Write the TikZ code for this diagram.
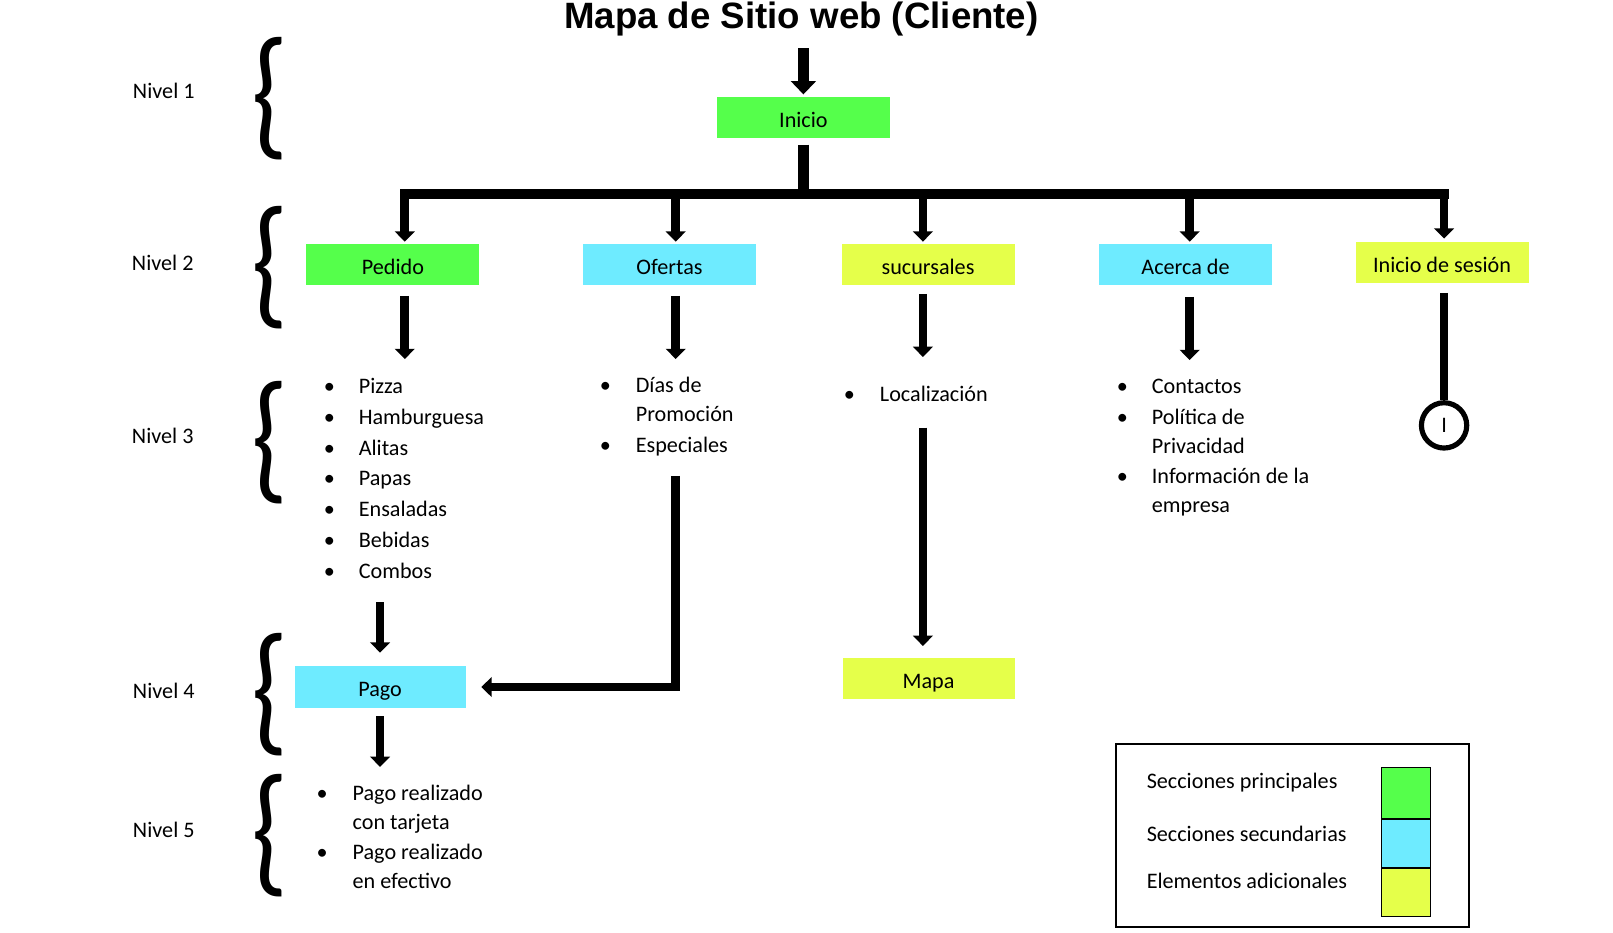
\documentclass[tikz,border=0pt]{standalone}
\usepackage{fontspec}
\setmainfont{Carlito}
\newfontfamily\titlefont{Liberation Sans}
\usepackage{graphicx}
\usetikzlibrary{arrows.meta, positioning}
\definecolor{mainGreen}{RGB}{85,255,75}
\definecolor{secCyan}{RGB}{110,235,255}
\definecolor{addYellow}{RGB}{229,255,74}
\newcommand{\llave}{\resizebox*{0.72cm}{2.38cm}{\{}}

\begin{document}
\begin{tikzpicture}[
    x=0.02cm, y=-0.02cm,
    font=\fontsize{12.25}{15.9}\selectfont,
    % Node styles
    seccion/.style={rectangle, minimum width=3.36cm, minimum height=0.8cm, inner sep=0pt,
                    text height=11pt, text depth=0pt, text centered},
    principal/.style={seccion, fill=mainGreen},
    secundaria/.style={seccion, fill=secCyan},
    adicional/.style={seccion, fill=addYellow},
    lista/.style={anchor=base west, inner sep=0pt, align=left},
    nivel/.style={inner sep=0pt},
    llaveset/.style={inner sep=0pt},
    arrow/.style={line width=0.17cm, -{Triangle[width=0.38cm, length=0.2cm]}},
    bigarrow/.style={line width=0.22cm, -{Triangle[width=0.48cm, length=0.26cm]}},
    bar/.style={line width=0.19cm},
    muestra/.style={rectangle, draw=black, line width=0.6pt, minimum width=0.94cm, inner sep=0pt},
    leyendatxt/.style={anchor=base west, inner sep=0pt}
]
\useasboundingbox (0,0) rectangle (1566,905);

% Title
\node[font=\titlefont\fontsize{20.25}{24}\selectfont\bfseries, anchor=base] (titulo) at (778,28) {Mapa de Sitio web (Cliente)};

% Level labels
\node[nivel] (nivel1) at (159,88) {Nivel 1};
\node[nivel] (nivel2) at (158,255) {Nivel 2};
\node[nivel] (nivel3) at (158,423) {Nivel 3};
\node[nivel] (nivel4) at (159,671) {Nivel 4};
\node[nivel] (nivel5) at (159,806) {Nivel 5};

\node[llaveset] (llave1) at (262,96) {\llave};
\node[llaveset] (llave2) at (262,260) {\llave};
\node[llaveset] (llave3) at (262,430) {\llave};
\node[llaveset] (llave4) at (262,674) {\llave};
\node[llaveset] (llave5) at (262,811) {\llave};

% Level 1
\node[principal] (inicio) at (780,114) {Inicio};

% Level 2
\node[principal] (pedido) at (381.5,257) {Pedido};
\node[secundaria] (ofertas) at (650,257) {Ofertas};
\node[adicional] (sucursales) at (901,257) {sucursales};
\node[secundaria] (acerca) at (1151,257) {Acerca de};
\node[adicional] (sesion) at (1400,255) {Inicio de sesión};

% Level 3
\node[lista] (pedlista) at (314,382) {\begin{tabular}[t]{@{}p{0.68cm}@{}l@{}}
  \textbullet & Pizza\\[0.04cm]
  \textbullet & Hamburguesa\\[0.04cm]
  \textbullet & Alitas\\[0.04cm]
  \textbullet & Papas\\[0.04cm]
  \textbullet & Ensaladas\\[0.04cm]
  \textbullet & Bebidas\\[0.04cm]
  \textbullet & Combos
\end{tabular}};
\node[lista] (oflista) at (582,381) {\begin{tabular}[t]{@{}p{0.7cm}@{}l@{}}
  \textbullet & Días de\\
              & Promoción\\[0.04cm]
  \textbullet & Especiales
\end{tabular}};
\node[lista] (suclista) at (819,390) {\begin{tabular}[t]{@{}p{0.7cm}@{}l@{}}
  \textbullet & Localización
\end{tabular}};
\node[lista] (acerlista) at (1084,382) {\begin{tabular}[t]{@{}p{0.68cm}@{}l@{}}
  \textbullet & Contactos\\[0.04cm]
  \textbullet & Política de\\
              & Privacidad\\[0.04cm]
  \textbullet & Información de la\\
              & empresa
\end{tabular}};
\node[circle, draw, line width=0.1cm, minimum size=0.88cm, inner sep=0pt] (candado) at (1402,413) {I};

% Level 4
\node[secundaria, minimum width=3.32cm] (pago) at (369,667) {Pago};
\node[adicional, minimum width=3.34cm] (mapa) at (901.5,658.5) {Mapa};

% Level 5
\node[lista] (pagolista) at (307,777) {\begin{tabular}[t]{@{}p{0.7cm}@{}l@{}}
  \textbullet & Pago realizado\\
              & con tarjeta\\[0.04cm]
  \textbullet & Pago realizado\\
              & en efectivo
\end{tabular}};

% Arrows
\coordinate (entrada) at (780,47);
\coordinate (nodo) at (780,188);
\coordinate (d1) at (393,188);
\coordinate (d2) at (656,188);
\coordinate (d3) at (896,188);
\coordinate (d4) at (1155,188);
\coordinate (d5) at (1402,188);

\draw[bigarrow, shorten >=0.04cm] (entrada) -- (inicio.north);
\draw[line width=0.2cm, shorten <=0.12cm] (inicio.south) -- (nodo);
\draw[bar, line cap=rect] (d1) -- (d5);
\draw[arrow, shorten >=0.04cm] (d1) -- (d1 |- pedido.north);
\draw[arrow, shorten >=0.04cm] (d2) -- (d2 |- ofertas.north);
\draw[arrow, shorten >=0.04cm] (d3) -- (d3 |- sucursales.north);
\draw[arrow, shorten >=0.04cm] (d4) -- (d4 |- acerca.north);
\draw[arrow, shorten >=0.06cm] (d5) -- (d5 |- sesion.north);

\draw[arrow, shorten <=0.2cm, shorten >=0.27cm] (pedido.south -| d1) -- (pedlista.north -| d1);
\draw[arrow, shorten <=0.2cm, shorten >=0.25cm] (ofertas.south -| d2) -- (oflista.north -| d2);
\draw[arrow, shorten <=0.16cm, shorten >=0.47cm] (sucursales.south -| d3) -- (suclista.north -| d3);
\draw[arrow, shorten <=0.22cm, shorten >=0.25cm] (acerca.south -| d4) -- (acerlista.north -| d4);
\draw[line width=0.15cm, shorten <=0.18cm] (sesion.south -| d5) -- (candado.north);

\draw[arrow, shorten <=0.29cm, shorten >=0.26cm] (pedlista.south -| pago) -- (pago.north);
\draw[arrow, shorten <=0.29cm, shorten >=0.3cm] (oflista.south -| d2) |- (pago.east);
\draw[arrow, shorten <=0.33cm, shorten >=0.22cm] (suclista.south -| d3) -- (d3 |- mapa.north);
\draw[arrow, shorten <=0.16cm, shorten >=0.25cm] (pago.south) -- (pagolista.north -| pago);

% Legend
\node[draw, line width=0.04cm, minimum width=6.86cm, minimum height=3.56cm, inner sep=0pt] (leyenda) at (1254.5,811) {};
\node[muestra, fill=mainGreen, minimum height=1cm] (m1) at (1365,770) {};
\node[muestra, fill=secCyan, minimum height=0.92cm, below=0cm of m1] (m2) {};
\node[muestra, fill=addYellow, minimum height=0.94cm, below=0cm of m2] (m3) {};
\node[leyendatxt] (t1) at (1113,766) {Secciones principales};
\node[leyendatxt] (t2) at (1113,817) {Secciones secundarias};
\node[leyendatxt] (t3) at (1113,863) {Elementos adicionales};

\end{tikzpicture}
\end{document}
